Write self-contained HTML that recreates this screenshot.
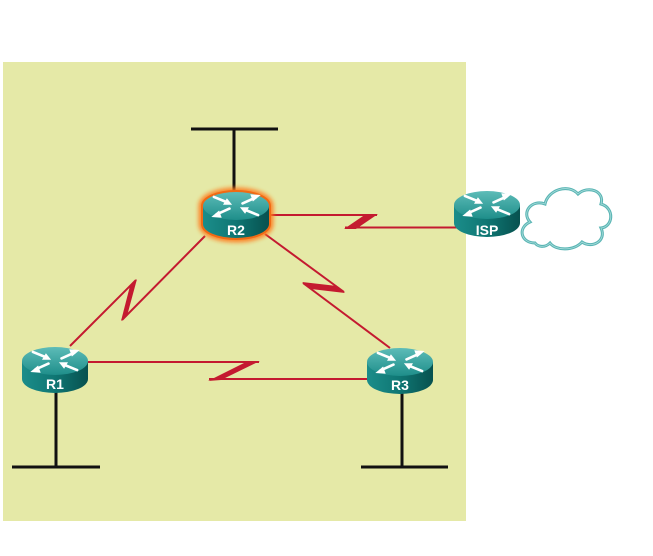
<!DOCTYPE html>
<html>
<head>
<meta charset="utf-8">
<style>
html,body{margin:0;padding:0;background:#ffffff;}
svg{display:block;}
text{font-family:"Liberation Sans",Arial,sans-serif;font-weight:bold;}
</style>
</head>
<body>
<svg width="653" height="556" viewBox="0 0 653 556" xmlns="http://www.w3.org/2000/svg">
  <defs>
    <linearGradient id="side" x1="0" y1="0" x2="1" y2="0">
      <stop offset="0" stop-color="#1b8d8a"/>
      <stop offset="0.5" stop-color="#0f7673"/>
      <stop offset="1" stop-color="#07514f"/>
    </linearGradient>
    <linearGradient id="top" x1="0" y1="0" x2="0" y2="1">
      <stop offset="0" stop-color="#5dbcb8"/>
      <stop offset="1" stop-color="#1e8e8a"/>
    </linearGradient>
    <filter id="glow" x="-30%" y="-50%" width="160%" height="200%">
      <feGaussianBlur stdDeviation="2"/>
    </filter>
    <g id="arrows" fill="#ffffff" stroke="#ffffff" stroke-linecap="round" transform="scale(1.3)">
      <line x1="-17" y1="-7" x2="-6" y2="-2.5" stroke-width="2"/>
      <polygon points="-3,-1 -10,-1 -7,-6" stroke="none"/>
      <line x1="17" y1="7" x2="6" y2="2.5" stroke-width="2"/>
      <polygon points="3,1 10,1 7,6" stroke="none"/>
      <line x1="5" y1="-2" x2="15" y2="-6.5" stroke-width="2"/>
      <polygon points="19,-8.5 11,-9 13,-3.5" stroke="none"/>
      <line x1="-5" y1="2" x2="-15" y2="6.5" stroke-width="2"/>
      <polygon points="-19,8.5 -11,9 -13,3.5" stroke="none"/>
    </g>
  </defs>

  <rect x="3" y="62" width="463" height="459" fill="#e5e9a7"/>

  <g stroke="#111" stroke-width="3" fill="none">
    <line x1="191" y1="129" x2="278" y2="129"/>
    <line x1="234" y1="129" x2="234" y2="196"/>
    <line x1="12" y1="467" x2="100" y2="467"/>
    <line x1="56" y1="388" x2="56" y2="467"/>
    <line x1="361" y1="467" x2="448" y2="467"/>
    <line x1="402" y1="388" x2="402" y2="467"/>
  </g>

  <g stroke="#c41a30" stroke-width="2" fill="none">
    <line x1="266" y1="215" x2="377" y2="215"/>
    <line x1="345" y1="227.5" x2="458" y2="227.5"/>
    <line x1="70" y1="346" x2="136" y2="280"/>
    <line x1="122" y1="320" x2="205" y2="236"/>
    <line x1="265" y1="234" x2="344" y2="292"/>
    <line x1="303" y1="283" x2="390" y2="348"/>
    <line x1="86" y1="362" x2="259" y2="362"/>
    <line x1="209" y1="379" x2="370" y2="379"/>
  </g>
  <g fill="#c41a30">
    <polygon points="378,214 366,214 344,229 356,229"/>
    <polygon points="137,279 127,316 121,321 130,286"/>
    <polygon points="345,293 337,286 302,282 311,289"/>
    <polygon points="260,361 248,361 208,381 221,380"/>
  </g>

  <path d="M 535,243 C 521,243 517,228 530,222 C 521,212 532,199 545,204 C 548,190 568,183 578,194 C 588,185 605,191 601,204 C 615,208 613,227 601,228 C 607,241 592,249 582,242 C 574,251 556,251 550,243 C 545,248 538,247 535,243 Z"
        fill="#ffffff" stroke="#5ab5b4" stroke-width="3"/>
  <path d="M 535,243 C 521,243 517,228 530,222 C 521,212 532,199 545,204 C 548,190 568,183 578,194 C 588,185 605,191 601,204 C 615,208 613,227 601,228 C 607,241 592,249 582,242 C 574,251 556,251 550,243 C 545,248 538,247 535,243 Z"
        fill="none" stroke="#a8dcdb" stroke-width="0.8"/>

  <path d="M 203,206 A 33 14 0 0 1 269,206 L 269,224 A 33 14 0 0 1 203,224 Z"
        fill="none" stroke="#ff7a1a" stroke-width="9" filter="url(#glow)" opacity="0.9"/>
  <path d="M 203,206 A 33 14 0 0 1 269,206 L 269,224 A 33 14 0 0 1 203,224 Z"
        fill="none" stroke="#f06a14" stroke-width="4"/>

  <g transform="translate(236,206)">
    <path d="M -33,0 L -33,18 A 33 14 0 0 0 33,18 L 33,0 Z" fill="url(#side)"/>
    <ellipse cx="0" cy="0" rx="33" ry="14" fill="url(#top)"/>
    <use href="#arrows"/>
    <text x="0" y="29" font-size="14" fill="#ffffff" text-anchor="middle">R2</text>
  </g>

  <g transform="translate(487,205)">
    <path d="M -33,0 L -33,18 A 33 14 0 0 0 33,18 L 33,0 Z" fill="url(#side)"/>
    <ellipse cx="0" cy="0" rx="33" ry="14" fill="url(#top)"/>
    <use href="#arrows"/>
    <text x="0" y="30" font-size="14" fill="#ffffff" text-anchor="middle">ISP</text>
  </g>

  <g transform="translate(55,361)">
    <path d="M -33,0 L -33,18 A 33 14 0 0 0 33,18 L 33,0 Z" fill="url(#side)"/>
    <ellipse cx="0" cy="0" rx="33" ry="14" fill="url(#top)"/>
    <use href="#arrows"/>
    <text x="0" y="28" font-size="14" fill="#ffffff" text-anchor="middle">R1</text>
  </g>

  <g transform="translate(400,362)">
    <path d="M -33,0 L -33,18 A 33 14 0 0 0 33,18 L 33,0 Z" fill="url(#side)"/>
    <ellipse cx="0" cy="0" rx="33" ry="14" fill="url(#top)"/>
    <use href="#arrows"/>
    <text x="0" y="28" font-size="14" fill="#ffffff" text-anchor="middle">R3</text>
  </g>
</svg>
</body>
</html>
